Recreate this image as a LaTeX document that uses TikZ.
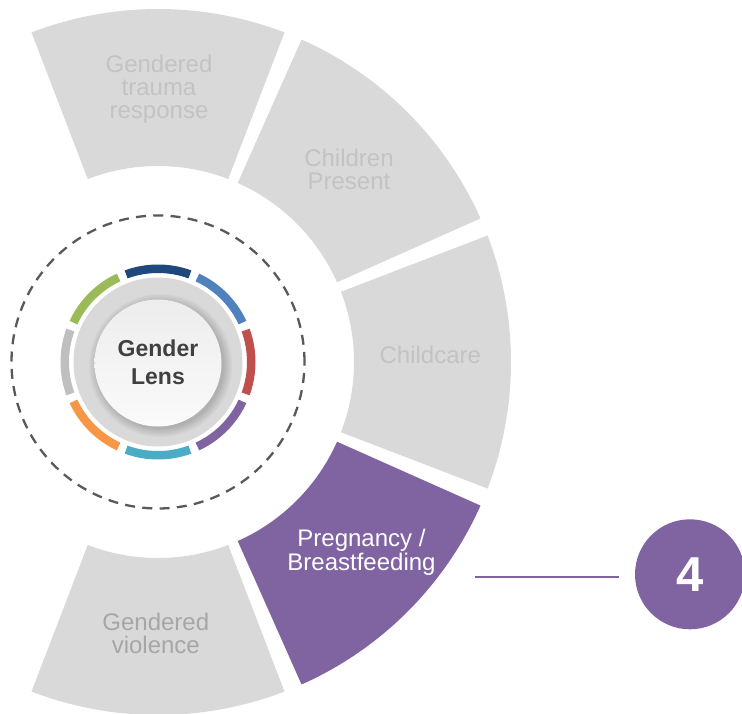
\documentclass[tikz,border=0pt]{standalone}
\usepackage{fontspec}
\setmainfont{Liberation Sans}
\definecolor{seggrey}{HTML}{D9D9D9}
\definecolor{segtext}{HTML}{C3C3C3}
\definecolor{segtextdark}{HTML}{A6A6A6}
\definecolor{purp}{HTML}{8064A2}
\definecolor{dashcol}{HTML}{595959}
\definecolor{lenstext}{HTML}{404040}
\definecolor{innertop}{HTML}{EDEDED}
\definecolor{innerbot}{HTML}{FAFAFA}
\definecolor{rdb}{HTML}{1F497D}
\definecolor{rb}{HTML}{4F81BD}
\definecolor{rr}{HTML}{C0504D}
\definecolor{rp}{HTML}{8064A2}
\definecolor{rc}{HTML}{4BACC6}
\definecolor{ro}{HTML}{F79646}
\definecolor{rgy}{HTML}{BFBFBF}
\definecolor{rgn}{HTML}{9BBB59}
\begin{document}
\begin{tikzpicture}[x=1pt,y=1pt,
  seglabel/.style={align=center, font=\fontsize{24pt}{23.3pt}\selectfont, text=segtext, inner sep=0pt},
  lenslabel/.style={align=center, font=\bfseries\fontsize{23pt}{28.3pt}\selectfont, text=lenstext, inner sep=0pt},
  numnode/.style={circle, fill=purp, minimum size=110pt, inner sep=0pt, text=white, font=\bfseries\fontsize{49pt}{49pt}\selectfont},
  dashring/.style={draw=dashcol, line width=2.3pt, dash pattern=on 10pt off 7.3pt},
  connector/.style={draw=purp, line width=2.5pt}
]
\useasboundingbox (-158,-351) rectangle (584,362);
% outer segments
\foreach \a/\c in {90/seggrey,45/seggrey,0/seggrey,-45/purp,-90/seggrey}{
  \fill[\c] (\a-21:196) arc[start angle=\a-21,end angle=\a+21,radius=196]
    -- (\a+21:353) arc[start angle=\a+21,end angle=\a-21,radius=353] -- cycle;
}
% dashed circle
\draw[dashring] (0,0) circle[radius=146.5];
% coloured ring
\foreach \a/\c in {90/rdb,45/rb,0/rr,-45/rp,-90/rc,-135/ro,180/rgy,135/rgn}{
  \fill[\c] (\a-20:89) arc[start angle=\a-20,end angle=\a+20,radius=89]
    -- (\a+20:97.5) arc[start angle=\a+20,end angle=\a-20,radius=97.5] -- cycle;
}
% grey disc with soft shadow
\fill[seggrey] (0,0) circle[radius=84.5];
\begin{scope}
  \clip (0,0) circle[radius=84.5];
  \foreach \k in {1,...,8}{
    \fill[black,opacity=0.025] (2.5,-3.5) circle[radius=62+\k*1.2];
  }
\end{scope}
\shade[top color=innertop, bottom color=innerbot] (0,-1) circle[radius=63.5];
\node[lenslabel] (lens) at (0,0) {Gender\\Lens};
% segment labels
\node[seglabel] (trauma) at (1,272.6) {Gendered\\trauma\\response};
\node[seglabel] (children) at (191,192.8) {Children\\Present};
\node[seglabel] (childcare) at (272.3,6.7) {Childcare};
\node[seglabel,text=white] (preg) at (203.5,-190.2) {Pregnancy /\\Breastfeeding};
\node[seglabel,text=segtextdark] (viol) at (-2.2,-271.3) {Gendered\\violence};
% number and connector
\node[numnode] (num) at (532,-212.3) {4};
\coordinate (ls) at (317,-215);
\draw[connector, shorten >=16pt] (ls) -- (ls -| num.west);
\end{tikzpicture}
\end{document}
